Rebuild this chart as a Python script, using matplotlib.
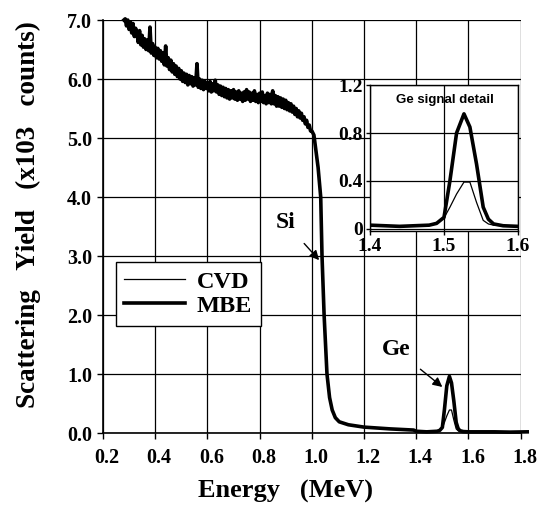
import matplotlib
matplotlib.use('Agg')
import matplotlib.pyplot as plt
import matplotlib.transforms as mtransforms
import numpy as np

# ---------------- data ----------------
bulk_energy = [
    0.280, 0.285, 0.290, 0.295, 0.300, 0.305, 0.310, 0.315, 0.320, 0.325,
    0.330, 0.335, 0.340, 0.345, 0.350, 0.355, 0.360, 0.365, 0.370, 0.375,
    0.380, 0.385, 0.390, 0.395, 0.400, 0.405, 0.410, 0.415, 0.420, 0.425,
    0.430, 0.435, 0.440, 0.445, 0.450, 0.455, 0.460, 0.465, 0.470, 0.475,
    0.480, 0.485, 0.490, 0.495, 0.500, 0.505, 0.510, 0.515, 0.520, 0.525,
    0.530, 0.535, 0.540, 0.545, 0.550, 0.555, 0.560, 0.565, 0.570, 0.575,
    0.580, 0.585, 0.590, 0.595, 0.600, 0.605, 0.610, 0.615, 0.620, 0.625,
    0.630, 0.635, 0.640, 0.645, 0.650, 0.655, 0.660, 0.665, 0.670, 0.675,
    0.680, 0.685, 0.690, 0.695, 0.700, 0.705, 0.710, 0.715, 0.720, 0.725,
    0.730, 0.735, 0.740, 0.745, 0.750, 0.755, 0.760, 0.765, 0.770, 0.775,
    0.780, 0.785, 0.790, 0.795, 0.800, 0.805, 0.810, 0.815, 0.820, 0.825,
    0.830, 0.835, 0.840, 0.845, 0.850, 0.855, 0.860, 0.865, 0.870, 0.875,
    0.880, 0.885, 0.890, 0.895, 0.900, 0.905, 0.910, 0.915, 0.920, 0.925,
    0.930, 0.935, 0.940, 0.945, 0.950, 0.955, 0.960, 0.965, 0.970, 0.975,
    0.980, 0.985, 0.990, 0.995, 1.000]
bulk_yield = [
    7.00, 7.02, 6.90, 7.00, 6.84, 6.97, 6.78, 6.94, 6.72, 6.86,
    6.78, 6.62, 6.82, 6.58, 6.74, 6.54, 6.68, 6.50, 6.66, 6.48,
    6.88, 6.44, 6.60, 6.40, 6.54, 6.36, 6.52, 6.34, 6.48, 6.30,
    6.44, 6.24, 6.56, 6.22, 6.36, 6.16, 6.32, 6.12, 6.26, 6.08,
    6.22, 6.04, 6.18, 6.00, 6.14, 5.96, 6.10, 5.94, 6.08, 5.90,
    6.06, 5.92, 6.04, 5.88, 6.02, 5.90, 6.26, 5.86, 6.00, 5.84,
    5.98, 5.82, 5.96, 5.84, 5.94, 5.80, 5.96, 5.78, 5.92, 5.80,
    5.98, 5.78, 5.90, 5.74, 5.88, 5.72, 5.86, 5.70, 5.84, 5.68,
    5.82, 5.66, 5.80, 5.68, 5.82, 5.66, 5.78, 5.64, 5.80, 5.66,
    5.76, 5.62, 5.78, 5.64, 5.82, 5.66, 5.78, 5.62, 5.76, 5.64,
    5.80, 5.62, 5.74, 5.60, 5.76, 5.62, 5.78, 5.60, 5.72, 5.58,
    5.76, 5.60, 5.74, 5.58, 5.80, 5.58, 5.72, 5.54, 5.70, 5.54,
    5.68, 5.52, 5.66, 5.50, 5.64, 5.48, 5.60, 5.46, 5.58, 5.44,
    5.54, 5.40, 5.50, 5.36, 5.46, 5.34, 5.42, 5.30, 5.36, 5.24,
    5.30, 5.18, 5.22, 5.12, 5.12]

edge_energy = [1.008, 1.024, 1.034, 1.039, 1.047, 1.058, 1.068, 1.078,
               1.090, 1.105, 1.140, 1.200, 1.300, 1.390]
edge_yield = [5.05, 4.50, 4.00, 3.00, 2.00, 1.00, 0.60, 0.39,
              0.26, 0.19, 0.14, 0.10, 0.07, 0.05]

ge_energy = [1.400, 1.420, 1.440, 1.460, 1.480, 1.490, 1.500, 1.508,
             1.517, 1.527, 1.535, 1.544, 1.553, 1.560, 1.567, 1.580, 1.600]
ge_mbe = [0.030, 0.025, 0.020, 0.025, 0.030, 0.045, 0.095, 0.40,
          0.80, 0.96, 0.85, 0.54, 0.18, 0.08, 0.04, 0.025, 0.020]
ge_cvd = [0.030, 0.025, 0.020, 0.025, 0.030, 0.045, 0.090, 0.18,
          0.29, 0.39, 0.39, 0.22, 0.07, 0.04, 0.030, 0.025, 0.020]

tail_energy = [1.62, 1.70, 1.76, 1.825]
tail_yield = [0.020, 0.020, 0.015, 0.020]

series_labels = ['CVD', 'MBE']
main_xticks = [0.2, 0.4, 0.6, 0.8, 1.0, 1.2, 1.4, 1.6, 1.8]
main_yticks = [0.0, 1.0, 2.0, 3.0, 4.0, 5.0, 6.0, 7.0]
inset_xticks = [1.4, 1.5, 1.6]
inset_yticks = [0, 0.4, 0.8, 1.2]
inset_yticklabels = ['0', '0.4', '0.8', '1.2']

# ---------------- build series ----------------
energy_all = np.concatenate([bulk_energy, edge_energy, ge_energy, tail_energy])
cvd_all = np.concatenate([bulk_yield, edge_yield, ge_cvd, tail_yield])
mbe_all = np.concatenate([bulk_yield, edge_yield, ge_mbe, tail_yield])

SERIF = ['Liberation Serif', 'DejaVu Serif']
SANS = ['Liberation Sans', 'DejaVu Sans']
plt.rcParams['font.family'] = SERIF
plt.rcParams['font.weight'] = 'bold'

fig = plt.figure(figsize=(5.37, 5.08), dpi=100)
ax = fig.add_axes([0.1918, 0.1476, 0.7778, 0.8130])

l_mbe, = ax.plot(energy_all, mbe_all, color='black', lw=2.6, label=series_labels[1], zorder=3)
l_cvd, = ax.plot(energy_all, cvd_all, color='black', lw=0.9, label=series_labels[0], zorder=4)

ax.set_xlim(0.2, 1.8)
ax.set_ylim(0, 7.0)
ax.set_xticks(main_xticks)
ax.set_xticklabels([f'{v:.1f}' for v in main_xticks])
ax.set_yticks(main_yticks)
ax.set_yticklabels([f'{v:.1f}' for v in main_yticks])
ax.grid(True, color='black', lw=0.9)
ax.set_axisbelow(True)
for s in ['top', 'right']:
    ax.spines[s].set_visible(False)
for s in ['left', 'bottom']:
    ax.spines[s].set_linewidth(1.2)
ax.tick_params(axis='x', labelsize=14.5, length=4, width=1, direction='out', pad=7)
ax.tick_params(axis='y', labelsize=14.5, length=4, width=1, direction='out', pad=4)
shift = mtransforms.ScaledTranslation(4 / 100, 0, fig.dpi_scale_trans)
for lab in ax.get_xticklabels():
    lab.set_transform(lab.get_transform() + shift)
for lab in ax.get_xticklabels() + ax.get_yticklabels():
    lab.set_fontweight('bold')

ax.set_xlabel('Energy   (MeV)', fontsize=19, fontweight='bold')
ax.set_ylabel('Scattering   Yield   (x103   counts)', fontsize=19.5, fontweight='bold')
ax.xaxis.set_label_coords(0.438, -0.114)
ax.yaxis.set_label_coords(-0.148, 0.528)

# legend (CVD first)
leg = ax.legend([l_cvd, l_mbe], [series_labels[0], series_labels[1]], loc='upper left',
                bbox_to_anchor=(0.03, 0.414), borderaxespad=0, fancybox=False,
                framealpha=1, edgecolor='black', fontsize=17.5, handlelength=2.5,
                handletextpad=0.5, borderpad=0.35, labelspacing=0.1)
leg.get_frame().set_linewidth(1.0)
for t in leg.get_texts():
    t.set_fontweight('bold')

# annotations
ax.annotate('Si', xy=(1.028, 2.93), xytext=(0.90, 3.56), fontsize=17, fontweight='bold',
            ha='center', va='center',
            arrowprops=dict(arrowstyle='-|>', color='black', lw=1.0, mutation_scale=14,
                            shrinkA=7, shrinkB=0))
ax.annotate('Ge', xy=(1.50, 0.78), xytext=(1.324, 1.41), fontsize=17, fontweight='bold',
            ha='center', va='center',
            arrowprops=dict(arrowstyle='-|>', color='black', lw=1.0, mutation_scale=14,
                            shrinkA=7, shrinkB=0))

l_mbe.set_clip_on(False)
l_cvd.set_clip_on(False)

# ---------------- inset ----------------
ins = fig.add_axes([0.689, 0.545, 0.2756, 0.2874])
ins.set_facecolor('white')
ins.set_zorder(5)
ins.plot(ge_energy, ge_mbe, color='black', lw=2.6, zorder=3)
ins.plot(ge_energy, ge_cvd, color='black', lw=0.9, zorder=4)
ins.set_xlim(1.4, 1.6)
ins.set_ylim(-0.02, 1.2)
ins.set_xticks(inset_xticks)
ins.set_xticklabels([f'{v:.1f}' for v in inset_xticks])
ins.set_yticks(inset_yticks)
ins.set_yticklabels(inset_yticklabels)
ins.grid(True, color='black', lw=0.9)
ins.set_axisbelow(True)
for s in ins.spines.values():
    s.set_linewidth(1.0)
ins.tick_params(axis='both', labelsize=14, length=3, width=1, pad=2)
for lab in ins.get_xticklabels() + ins.get_yticklabels():
    lab.set_fontweight('bold')
ins.text(0.507, 0.897, 'Ge signal detail', transform=ins.transAxes, ha='center', va='center',
         fontsize=9.5, fontweight='bold', family=SANS)

fig.savefig('out.png', dpi=100)
